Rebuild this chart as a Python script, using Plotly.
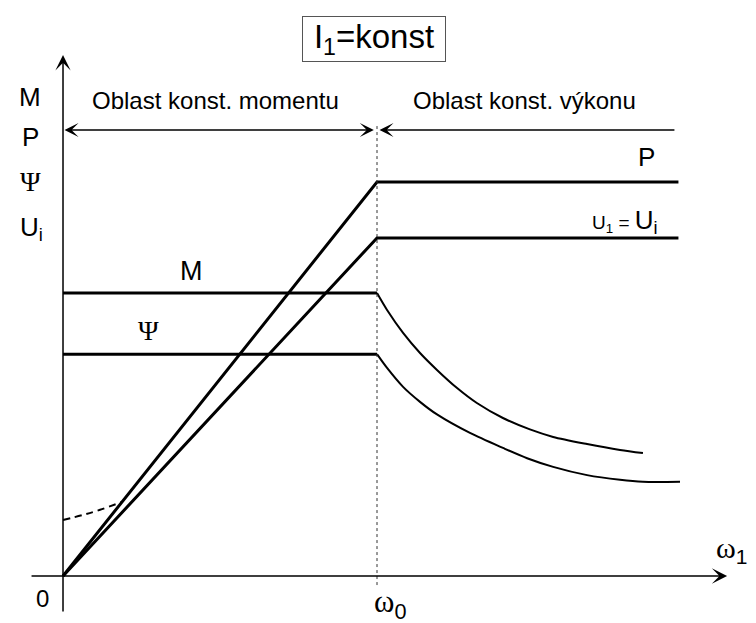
import plotly.graph_objects as go

# omega normalised so that omega_0 = 1, quantities normalised so that P = 1
OMEGA_0 = 1.0
OMEGA_END = 1.96

# P and U1 = Ui : linear rise up to omega_0, then constant
p_omega = [0.0, OMEGA_0, OMEGA_END]
p_vals = [0.0, 1.0, 1.0]
u_omega = [0.0, OMEGA_0, OMEGA_END]
u_vals = [0.0, 0.858, 0.858]

# M : constant up to omega_0, then falls
m_omega = [0.0, 1.0, 1.032, 1.083, 1.137, 1.191, 1.255, 1.318, 1.401, 1.487,
           1.561, 1.669, 1.774, 1.847]
m_vals = [0.718, 0.718, 0.675, 0.617, 0.566, 0.523, 0.477, 0.439, 0.401, 0.372,
          0.353, 0.335, 0.320, 0.312]

# Psi : constant up to omega_0, then falls
psi_omega = [0.0, 1.0, 1.032, 1.083, 1.137, 1.191, 1.296, 1.401, 1.478, 1.561,
             1.669, 1.774, 1.847, 1.965]
psi_vals = [0.563, 0.563, 0.528, 0.480, 0.442, 0.410, 0.363, 0.325, 0.299, 0.277,
            0.256, 0.244, 0.239, 0.239]

# dashed start of the curve near the origin
dash_omega = [0.0, 0.064, 0.118, 0.188]
dash_vals = [0.142, 0.155, 0.168, 0.188]

SANS = "Liberation Sans, Arial, sans-serif"
SERIF = "Liberation Serif, Times New Roman, serif"
BLACK = "black"

fig = go.Figure()

# rising lines + flat parts
fig.add_trace(go.Scatter(x=p_omega, y=p_vals, mode="lines",
                         line=dict(color=BLACK, width=3)))
fig.add_trace(go.Scatter(x=u_omega, y=u_vals, mode="lines",
                         line=dict(color=BLACK, width=3)))

# M and Psi: thick flat part, thinner falling part
fig.add_trace(go.Scatter(x=m_omega[:2], y=m_vals[:2], mode="lines",
                         line=dict(color=BLACK, width=3)))
fig.add_trace(go.Scatter(x=m_omega[1:], y=m_vals[1:], mode="lines",
                         line=dict(color=BLACK, width=2, shape="spline", smoothing=0.8)))
fig.add_trace(go.Scatter(x=psi_omega[:2], y=psi_vals[:2], mode="lines",
                         line=dict(color=BLACK, width=3)))
fig.add_trace(go.Scatter(x=psi_omega[1:], y=psi_vals[1:], mode="lines",
                         line=dict(color=BLACK, width=2, shape="spline", smoothing=0.8)))

fig.add_trace(go.Scatter(x=dash_omega, y=dash_vals, mode="lines",
                         line=dict(color=BLACK, width=2, dash="7px,5px", shape="spline")))

# vertical dashed line at omega_0
fig.add_shape(type="line", x0=OMEGA_0, x1=OMEGA_0, y0=-0.023, y1=1.145,
              line=dict(color="#333", width=1, dash="3px,3px"))

arrow = dict(text="", showarrow=True, xref="x", yref="y", axref="x", ayref="y",
             arrowcolor=BLACK, standoff=0, startstandoff=0)

# axes
fig.add_annotation(**arrow, x=0, y=1.322, ax=0, ay=-0.094,
                   arrowhead=3, arrowwidth=1.5, arrowsize=1.7)
fig.add_annotation(**arrow, x=2.115, y=0, ax=-0.105, ay=0,
                   arrowhead=3, arrowwidth=1.5, arrowsize=1.7)

# region arrows
fig.add_annotation(**arrow, x=0.99, y=1.132, ax=0.0, ay=1.132,
                   arrowhead=3, startarrowhead=3, arrowside="end+start",
                   arrowwidth=1.3, arrowsize=1.8, startarrowsize=1.8)
fig.add_annotation(**arrow, x=1.008, y=1.132, ax=1.952, ay=1.132,
                   arrowhead=3, arrowwidth=1.3, arrowsize=1.8)

def label(text, x, y, size, family=SANS):
    fig.add_annotation(text=text, x=x, y=y, xref="x", yref="y", showarrow=False,
                       font=dict(family=family, size=size, color=BLACK),
                       xanchor="center", yanchor="middle")

# title box
fig.add_annotation(text="I<sub>1</sub>=konst", x=0.990, y=1.363, xref="x", yref="y",
                   showarrow=False, font=dict(family=SANS, size=33, color=BLACK),
                   bordercolor="#555", borderwidth=1, borderpad=1,
                   width=140, height=42, bgcolor="white")

# y-axis labels
label("M", -0.105, 1.216, 26)
label("P", -0.105, 1.114, 26)
label("Ψ", -0.105, 1.000, 28, SERIF)
label("U<sub>i</sub>", -0.100, 0.883, 26)

# region labels
label("Oblast konst. momentu", 0.487, 1.206, 24)
label("Oblast konst. výkonu", 1.471, 1.206, 24)

# curve labels
label("M", 0.408, 0.774, 27)
label("Ψ", 0.271, 0.622, 28, SERIF)
label("P", 1.857, 1.063, 26)
label("<span style='font-size:19px'>U<sub>1</sub> = </span>U<sub>i</sub>", 1.790, 0.900, 26)

# axis tick labels
label("0", -0.064, -0.056, 24)
label("ω<span style='font-family:Liberation Sans'><sub>0</sub></span>", 1.040, -0.072, 31, SERIF)
label("ω<span style='font-family:Liberation Sans'><sub>1</sub></span>", 2.128, 0.068, 30, SERIF)

# page has an 8 px body margin, so the figure is 748x615 and the ranges are shifted
fig.update_layout(
    width=748, height=615,
    margin=dict(l=0, r=0, t=0, b=0),
    paper_bgcolor="white", plot_bgcolor="white",
    showlegend=False,
    xaxis=dict(range=[-0.1752, 2.2070], visible=False, fixedrange=True),
    yaxis=dict(range=[-0.1193, 1.4416], visible=False, fixedrange=True),
)

fig.write_html("out.html")
